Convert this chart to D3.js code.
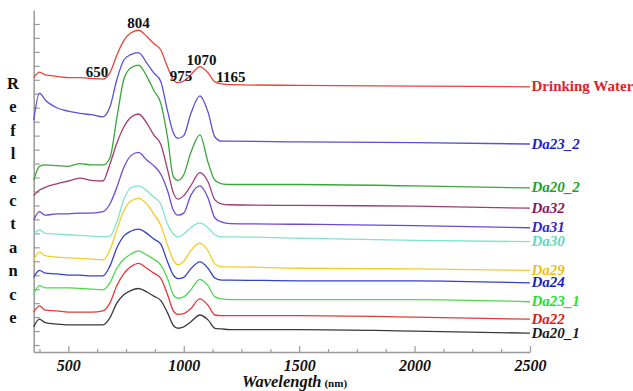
<!DOCTYPE html>
<html>
<head>
<meta charset="utf-8">
<script src="https://cdn.jsdelivr.net/npm/d3@7"></script>
<style>
  html, body { margin: 0; padding: 0; background: #fff; }
  svg { display: block; }
</style>
</head>
<body>
<svg id="chart" width="633" height="391"></svg>
<script>
// Wavelength grid (nm) shared by every spectrum
const wavelengths = [350, 375, 400, 450, 500, 550, 600, 650, 680, 710, 740, 770, 804, 840, 870, 900, 930, 955, 975, 1000, 1030, 1070, 1105, 1135, 1165, 1200, 1500, 2000, 2500];

// Reflectance (offset-stacked, arbitrary units) for each sample
const drinkingWater = [39.3, 40.1, 39.7, 39.5, 39.3, 39.3, 39.2, 39.1, 40.0, 42.5, 44.6, 45.7, 46.1, 45.2, 44.2, 43.3, 40.8, 39.0, 38.6, 38.8, 39.7, 40.9, 40.0, 38.7, 38.4, 38.3, 38.2, 38.1, 38.0];
const da23_2 = [33.2, 37.1, 36.1, 35.0, 34.5, 34.2, 34.0, 33.7, 35.1, 39.0, 41.8, 42.6, 42.9, 41.4, 40.0, 38.8, 34.5, 31.4, 30.6, 31.0, 34.1, 36.7, 34.4, 30.8, 30.2, 30.2, 30.1, 30.0, 29.8];
const da20_2 = [24.6, 26.6, 26.8, 26.7, 26.6, 27.0, 26.8, 26.8, 27.8, 33.5, 39.0, 40.7, 41.1, 39.5, 37.5, 35.7, 30.7, 25.1, 24.6, 25.4, 28.5, 31.1, 27.2, 24.6, 24.1, 24.0, 24.0, 23.8, 23.5];
const da32 = [22.4, 23.2, 23.6, 24.1, 24.5, 24.9, 24.6, 24.5, 26.9, 29.9, 32.2, 33.6, 34.1, 32.8, 31.1, 29.8, 26.1, 22.8, 21.9, 22.4, 23.8, 25.7, 24.4, 21.8, 21.2, 21.1, 21.0, 20.9, 20.6];
const da31 = [18.9, 20.1, 19.6, 19.8, 19.8, 19.9, 19.9, 20.1, 21.2, 23.6, 26.4, 28.1, 28.6, 27.5, 26.7, 25.5, 23.1, 20.3, 19.6, 19.9, 22.4, 23.8, 22.1, 19.2, 18.6, 18.4, 18.3, 18.1, 17.8];
const da30 = [16.9, 17.5, 17.0, 16.9, 16.8, 16.7, 16.6, 16.5, 16.6, 18.6, 21.8, 23.5, 23.8, 23.1, 22.2, 21.2, 18.3, 16.9, 16.5, 16.9, 17.8, 18.5, 17.8, 16.8, 16.5, 16.5, 16.3, 16.0, 15.8];
const da29 = [13.2, 14.3, 13.8, 13.6, 13.5, 13.4, 13.3, 13.2, 14.6, 17.5, 20.2, 21.6, 22.0, 21.2, 19.8, 18.2, 15.3, 13.2, 12.5, 13.0, 14.5, 15.6, 14.5, 12.6, 12.2, 12.2, 12.0, 11.9, 11.7];
const da24 = [10.7, 11.7, 11.3, 11.2, 11.0, 11.0, 10.9, 10.9, 12.3, 14.9, 16.6, 17.3, 17.6, 17.0, 16.2, 15.5, 12.9, 11.0, 10.5, 10.7, 11.9, 12.9, 12.0, 10.6, 10.3, 10.3, 10.2, 10.2, 9.9];
const da23_1 = [8.3, 9.5, 9.2, 9.2, 9.2, 9.1, 9.0, 8.9, 9.9, 12.0, 13.3, 14.0, 14.5, 13.9, 13.3, 12.5, 10.5, 8.2, 7.7, 7.9, 8.9, 10.4, 9.5, 7.9, 7.6, 7.5, 7.5, 7.5, 7.2];
const da22 = [5.7, 6.6, 6.0, 5.9, 5.7, 5.7, 5.7, 5.9, 7.0, 9.5, 11.2, 12.2, 12.7, 12.0, 11.3, 10.6, 8.2, 5.9, 5.4, 5.5, 6.2, 7.6, 6.7, 5.3, 5.2, 5.2, 5.2, 5.0, 4.7];
const da20_1 = [3.6, 4.7, 4.2, 4.0, 3.9, 3.9, 3.9, 3.9, 4.9, 7.0, 8.2, 8.8, 9.1, 8.6, 8.0, 7.4, 5.6, 3.8, 3.4, 3.6, 4.3, 5.3, 4.6, 3.4, 3.3, 3.2, 3.2, 3.0, 2.7];

const seriesNames = ["Drinking Water", "Da23_2", "Da20_2", "Da32", "Da31", "Da30", "Da29", "Da24", "Da23_1", "Da22", "Da20_1"];
const seriesValues = [drinkingWater, da23_2, da20_2, da32, da31, da30, da29, da24, da23_1, da22, da20_1];
const lineColors  = ["#e8453c", "#5a4fd6", "#3aa63a", "#a33a72", "#6a48d8", "#7fe3cc", "#f2cc2a", "#3340c8", "#4fd84f", "#e23a3a", "#3a3a3a"];
const labelColors = ["#e0232b", "#1d1dc9", "#1fa01f", "#8a1660", "#3a22d0", "#5fd8bd", "#f0c010", "#1a22c2", "#28e028", "#e01818", "#1a1a1a"];

// Tick values
const xTickValues = d3.range(375, 2501, 125);
const xTickLabels = [500, 1000, 1500, 2000, 2500];
const yTickValues = d3.range(1, 48, 2);

// Band positions annotated on the drinking-water spectrum
const peakBands = [650, 804, 975, 1070, 1165];

const svg = d3.select("#chart");
const serif = "'Liberation Serif', 'Times New Roman', serif";

const x = d3.scaleLinear().domain([350, 2500]).range([33.7, 530]);
const y = d3.scaleLinear().domain([0, 49]).range([352, 10]);

const axisColor = "#9a9a9a";

// Bottom axis: ticks point into the plot, long ticks every 500 nm
const gx = svg.append("g").attr("transform", `translate(0,${y(0)})`)
  .call(d3.axisBottom(x).tickValues(xTickValues).tickSizeOuter(0).tickSizeInner(0)
    .tickFormat(d => xTickLabels.includes(d) ? d : ""));
gx.select(".domain").attr("stroke", axisColor).attr("stroke-width", 1.5);
gx.selectAll(".tick line")
  .attr("stroke", axisColor).attr("stroke-width", 1.2)
  .attr("y2", d => d % 500 === 0 ? -6 : -3);
gx.selectAll(".tick text")
  .attr("y", 18.5).attr("dy", null)
  .attr("fill", "#111")
  .style("font-family", serif).style("font-size", "16px")
  .style("font-weight", "bold").style("font-style", "italic");

// Left axis: short ticks pointing right, no labels
const gy = svg.append("g").attr("transform", `translate(${x(350)},0)`)
  .call(d3.axisLeft(y).tickValues(yTickValues).tickSizeOuter(0).tickSizeInner(-6).tickFormat(""));
gy.select(".domain").attr("stroke", axisColor).attr("stroke-width", 1.5);
gy.selectAll(".tick line").attr("stroke", axisColor).attr("stroke-width", 1.2);

// Spectra
const line = d3.line()
  .x((d, i) => x(wavelengths[i]))
  .y(d => y(d))
  .curve(d3.curveMonotoneX);

svg.append("g").selectAll("path")
  .data(seriesValues)
  .join("path")
  .attr("d", d => line(d))
  .attr("fill", "none")
  .attr("stroke", (d, i) => lineColors[i])
  .attr("stroke-width", 1.3);

// Sample names at the right end of each spectrum
svg.append("g").selectAll("text")
  .data(seriesValues)
  .join("text")
  .attr("x", x(2500) + 1.5)
  .attr("y", d => y(d[d.length - 1]) + 4.5)
  .attr("fill", (d, i) => labelColors[i])
  .style("font-family", serif)
  .style("font-size", "15px")
  .style("font-weight", "bold")
  .style("font-style", (d, i) => i === 0 ? "normal" : "italic")
  .text((d, i) => seriesNames[i]);

// Band annotations above the drinking-water curve
const bandOffset = { 650: { dx: -6, anchor: "middle" }, 804: { dx: 0, anchor: "middle" },
                     975: { dx: 3, anchor: "middle" }, 1070: { dx: 1.5, anchor: "middle" },
                     1165: { dx: 9, anchor: "middle" } };
svg.append("g").selectAll("text")
  .data(peakBands)
  .join("text")
  .attr("x", d => x(d) + bandOffset[d].dx)
  .attr("y", d => y(drinkingWater[wavelengths.indexOf(d)]) - 2)
  .attr("text-anchor", d => bandOffset[d].anchor)
  .attr("fill", "#111")
  .style("font-family", serif)
  .style("font-size", "15px")
  .style("font-weight", "bold")
  .text(d => d);

// Vertical "Reflectance" title, one letter per line
const yTitle = "Reflectance";
svg.append("text")
  .attr("x", 13)
  .attr("y", 89)
  .attr("fill", "#111")
  .attr("text-anchor", "middle")
  .style("font-family", serif)
  .style("font-size", "16.5px")
  .style("font-weight", "bold")
  .selectAll("tspan")
  .data(yTitle.split(""))
  .join("tspan")
  .attr("x", 13)
  .attr("dy", (d, i) => i === 0 ? 0 : 23.4)
  .text(d => d);

// X-axis title
const xTitle = svg.append("text")
  .attr("x", 242)
  .attr("y", 386.5)
  .attr("fill", "#111")
  .style("font-family", serif)
  .style("font-weight", "bold");
xTitle.append("tspan").style("font-size", "16.5px").style("font-style", "italic").text("Wavelength");
xTitle.append("tspan").attr("dx", 3).style("font-size", "11px").text("(nm)");
</script>
</body>
</html>
